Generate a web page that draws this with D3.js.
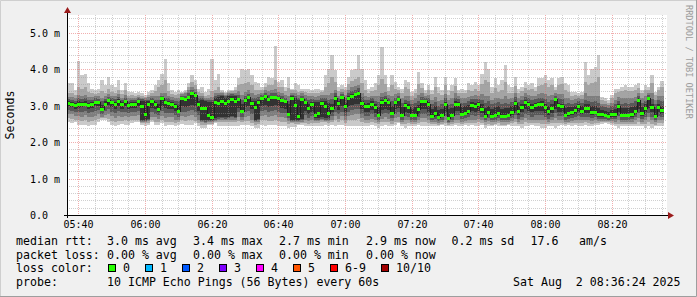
<!DOCTYPE html>
<html>
<head>
<meta charset="utf-8">
<script src="https://cdn.jsdelivr.net/npm/d3@7"></script>
<style>
  body { margin: 0; background: #f0f0f0; }
  svg { display: block; }
  text { font-family: "DejaVu Sans Mono", monospace; white-space: pre; }
</style>
</head>
<body>
<svg id="chart" width="697" height="297"></svg>
<script>
// one column per minute, 10 pings each, ms
const median = [
  3.08,3.05,3.01,3.05,3.05,3.06,3.02,3.04,3.09,3.09,2.91,3.06,3.15,3.09,3.05,3.14,3.04,3.13,3.02,3.06,3.05,3.13,2.98,2.77,3.05,3.12,3.04,2.90,3.21,3.09,3.07,3.05,2.98,2.85,3.22,3.18,3.25,3.35,3.29,3.06,2.95,2.93,2.74,2.69,3.10,
  3.08,3.12,3.07,3.12,3.18,3.14,3.18,2.85,3.17,3.24,3.07,2.97,3.09,3.22,3.27,3.18,3.25,3.25,3.20,3.15,3.12,2.77,3.22,3.02,2.73,3.18,3.11,2.95,3.05,2.75,2.79,3.07,3.00,2.80,2.95,3.22,3.08,3.24,2.99,3.22,3.28,3.33,3.36,3.08,3.00,
  3.00,3.05,2.96,2.75,3.09,3.15,3.09,2.80,3.09,3.18,2.75,3.02,2.97,2.74,2.75,2.90,3.13,3.13,3.05,2.72,2.79,2.68,2.74,3.05,2.66,2.75,3.06,3.06,2.77,2.81,2.85,3.02,2.99,3.04,2.92,2.73,2.83,2.72,2.75,2.81,2.71,2.73,2.74,2.82,3.08,
  2.85,2.96,3.11,3.04,2.97,3.02,3.04,3.05,2.97,2.85,2.95,3.18,3.02,3.00,2.75,2.79,2.82,2.88,2.98,2.85,2.93,2.95,2.82,2.84,2.76,2.76,2.74,2.73,2.76,2.76,3.00,2.75,2.75,2.75,2.76,2.85,3.15,2.80,2.93,3.20,2.96,2.71,2.97,2.89,null
];
const ping1 = [
  2.56,2.52,2.56,2.47,2.47,2.47,2.43,2.47,2.47,2.56,2.61,2.61,2.56,2.47,2.43,2.47,2.49,2.47,2.47,2.52,2.56,2.56,2.47,2.43,2.47,2.56,2.47,2.47,2.52,2.43,2.47,2.47,2.43,2.47,2.49,2.47,2.47,2.47,2.52,2.43,2.38,2.38,2.47,2.47,2.52,
  2.43,2.43,2.43,2.45,2.43,2.43,2.45,2.47,2.47,2.47,2.45,2.40,2.38,2.47,2.45,2.47,2.47,2.47,2.43,2.45,2.43,2.40,2.41,2.42,2.47,2.47,2.45,2.43,2.43,2.45,2.43,2.43,2.47,2.45,2.47,2.45,2.47,2.47,2.43,2.44,2.43,2.45,2.43,2.43,2.43,
  2.45,2.47,2.43,2.40,2.45,2.47,2.43,2.45,2.47,2.52,2.45,2.38,2.43,2.45,2.43,2.47,2.43,2.45,2.43,2.43,2.45,2.43,2.47,2.43,2.43,2.45,2.47,2.43,2.45,2.47,2.43,2.47,2.45,2.43,2.47,2.40,2.43,2.45,2.47,2.43,2.45,2.43,2.47,2.45,2.43,
  2.43,2.40,2.45,2.43,2.47,2.45,2.43,2.38,2.40,2.43,2.45,2.40,2.43,2.47,2.45,2.47,2.45,2.47,2.43,2.45,2.47,2.45,2.43,2.47,2.47,2.50,2.52,2.50,2.47,2.45,2.40,2.43,2.45,2.43,2.45,2.43,2.45,2.43,2.40,2.43,2.40,2.43,2.45,2.43,null
];
const ping2 = [
  2.66,2.64,2.62,2.60,2.58,2.60,2.56,2.58,2.60,2.64,2.66,2.66,2.64,2.58,2.54,2.58,2.58,2.60,2.58,2.60,2.62,2.62,2.52,2.52,2.53,2.62,2.56,2.56,2.60,2.54,2.56,2.56,2.52,2.54,2.60,2.58,2.60,2.60,2.58,2.52,2.48,2.46,2.50,2.50,2.55,
  2.54,2.56,2.54,2.56,2.56,2.56,2.58,2.54,2.58,2.58,2.52,2.48,2.50,2.60,2.60,2.58,2.58,2.60,2.58,2.56,2.54,2.50,2.52,2.50,2.50,2.52,2.52,2.50,2.52,2.52,2.52,2.54,2.54,2.52,2.54,2.60,2.54,2.60,2.52,2.60,2.60,2.62,2.64,2.54,2.52,
  2.52,2.54,2.52,2.50,2.54,2.56,2.54,2.50,2.54,2.56,2.50,2.50,2.52,2.50,2.50,2.52,2.54,2.54,2.52,2.50,2.50,2.48,2.50,2.52,2.48,2.50,2.52,2.52,2.50,2.52,2.52,2.52,2.52,2.54,2.52,2.48,2.50,2.48,2.50,2.52,2.48,2.48,2.50,2.52,2.54,
  2.50,2.50,2.54,2.52,2.52,2.52,2.52,2.50,2.50,2.50,2.52,2.52,2.52,2.52,2.50,2.52,2.52,2.52,2.52,2.52,2.54,2.52,2.50,2.52,2.52,2.54,2.55,2.54,2.52,2.50,2.50,2.50,2.50,2.50,2.50,2.50,2.54,2.50,2.50,2.54,2.50,2.48,2.52,2.52,null
];
const ping3 = [
  2.78,2.76,2.72,2.72,2.70,2.74,2.68,2.70,2.72,2.76,2.70,2.74,2.76,2.72,2.66,2.72,2.70,2.72,2.70,2.72,2.72,2.74,2.55,2.55,2.57,2.70,2.68,2.64,2.72,2.66,2.68,2.68,2.62,2.62,2.72,2.70,2.72,2.74,2.70,2.62,2.54,2.52,2.54,2.54,2.58,
  2.60,2.62,2.60,2.62,2.62,2.62,2.70,2.62,2.70,2.72,2.62,2.54,2.55,2.72,2.74,2.70,2.72,2.74,2.70,2.68,2.66,2.58,2.55,2.55,2.54,2.56,2.62,2.58,2.62,2.58,2.58,2.60,2.58,2.58,2.62,2.72,2.64,2.72,2.62,2.72,2.74,2.76,2.78,2.66,2.62,
  2.62,2.64,2.60,2.56,2.64,2.68,2.64,2.58,2.66,2.68,2.56,2.60,2.60,2.56,2.56,2.60,2.66,2.66,2.62,2.54,2.56,2.52,2.56,2.62,2.52,2.56,2.62,2.62,2.56,2.58,2.60,2.62,2.62,2.64,2.60,2.54,2.58,2.54,2.56,2.58,2.54,2.54,2.56,2.58,2.64,
  2.56,2.60,2.66,2.62,2.60,2.62,2.62,2.62,2.60,2.56,2.60,2.66,2.62,2.60,2.56,2.56,2.58,2.60,2.62,2.60,2.60,2.60,2.58,2.60,2.58,2.58,2.58,2.58,2.58,2.56,2.62,2.56,2.56,2.56,2.56,2.60,2.66,2.56,2.60,2.68,2.60,2.54,2.62,2.60,null
];
const ping4 = [
  2.88,2.86,2.82,2.84,2.84,2.86,2.80,2.82,2.86,2.88,2.78,2.86,2.90,2.84,2.80,2.86,2.82,2.84,2.80,2.82,2.84,2.86,2.58,2.57,2.60,2.82,2.78,2.74,2.86,2.80,2.80,2.80,2.74,2.70,2.84,2.82,2.86,2.88,2.84,2.74,2.58,2.56,2.57,2.57,2.62,
  2.64,2.66,2.64,2.66,2.68,2.66,2.82,2.70,2.84,2.86,2.76,2.58,2.60,2.86,2.88,2.84,2.86,2.88,2.84,2.80,2.80,2.66,2.58,2.58,2.58,2.60,2.74,2.66,2.72,2.62,2.62,2.64,2.62,2.62,2.72,2.84,2.76,2.84,2.72,2.84,2.88,2.90,2.92,2.78,2.72,
  2.72,2.76,2.70,2.62,2.76,2.80,2.76,2.66,2.78,2.82,2.62,2.72,2.70,2.62,2.62,2.68,2.78,2.78,2.72,2.60,2.64,2.58,2.62,2.72,2.56,2.62,2.74,2.74,2.64,2.66,2.68,2.74,2.72,2.74,2.70,2.60,2.66,2.60,2.62,2.66,2.60,2.60,2.62,2.66,2.74,
  2.64,2.70,2.78,2.74,2.70,2.74,2.74,2.74,2.70,2.64,2.70,2.80,2.72,2.72,2.62,2.64,2.66,2.68,2.72,2.68,2.70,2.70,2.66,2.68,2.64,2.64,2.64,2.62,2.64,2.64,2.72,2.62,2.62,2.62,2.64,2.68,2.80,2.64,2.70,2.80,2.70,2.60,2.72,2.68,null
];
const ping5 = [
  2.98,2.96,2.92,2.94,2.96,2.98,2.92,2.94,2.98,3.00,2.86,2.98,3.02,2.96,2.92,3.00,2.92,2.98,2.90,2.94,2.94,2.98,2.62,2.60,2.64,2.94,2.90,2.84,3.00,2.94,2.92,2.92,2.86,2.80,2.98,2.96,3.00,3.02,2.98,2.86,2.62,2.60,2.60,2.60,2.66,
  2.68,2.70,2.68,2.70,2.72,2.70,2.94,2.80,2.96,3.00,2.90,2.62,2.64,3.00,3.02,2.96,3.00,3.02,2.98,2.94,2.92,2.74,2.62,2.62,2.62,2.64,2.86,2.76,2.84,2.66,2.66,2.68,2.66,2.66,2.82,2.98,2.88,2.98,2.84,2.98,3.02,3.04,3.06,2.90,2.84,
  2.84,2.88,2.80,2.70,2.88,2.92,2.88,2.74,2.90,2.94,2.70,2.84,2.80,2.70,2.70,2.78,2.90,2.90,2.84,2.68,2.72,2.64,2.70,2.84,2.62,2.70,2.86,2.86,2.72,2.74,2.78,2.86,2.84,2.86,2.80,2.68,2.76,2.68,2.70,2.74,2.66,2.68,2.70,2.74,2.86,
  2.74,2.82,2.90,2.86,2.82,2.86,2.86,2.86,2.80,2.74,2.80,2.92,2.84,2.82,2.70,2.72,2.74,2.76,2.82,2.76,2.80,2.80,2.74,2.76,2.70,2.70,2.70,2.68,2.70,2.70,2.84,2.70,2.70,2.70,2.70,2.76,2.92,2.72,2.82,2.94,2.82,2.66,2.84,2.78,null
];
const ping6 = [
  3.12,3.10,3.08,3.12,3.11,3.12,3.08,3.10,3.14,3.13,3.02,3.12,3.18,3.14,3.10,3.18,3.10,3.16,3.08,3.10,3.10,3.16,3.14,3.12,3.12,3.14,3.10,3.06,3.22,3.14,3.12,3.10,3.04,3.02,3.24,3.22,3.28,3.38,3.32,3.12,3.16,3.12,3.10,3.10,3.22,
  3.24,3.26,3.22,3.26,3.28,3.26,3.22,3.04,3.20,3.26,3.12,3.12,3.16,3.24,3.30,3.22,3.28,3.28,3.24,3.18,3.16,3.04,3.26,3.20,3.16,3.22,3.14,3.04,3.10,3.10,3.10,3.14,3.12,3.08,3.06,3.26,3.12,3.28,3.08,3.26,3.32,3.36,3.40,3.14,3.06,
  3.08,3.12,3.04,2.96,3.16,3.20,3.14,3.00,3.14,3.22,2.96,3.08,3.04,2.92,2.96,3.02,3.16,3.16,3.10,2.92,2.98,2.88,2.92,3.10,2.90,2.94,3.12,3.10,2.96,2.98,3.02,3.10,3.08,3.10,3.04,2.94,3.00,2.92,2.96,2.98,2.90,2.94,2.94,2.98,3.14,
  2.98,3.06,3.16,3.10,3.06,3.08,3.10,3.12,3.06,2.98,3.04,3.22,3.08,3.06,2.94,2.96,2.96,3.00,3.04,2.98,3.04,3.04,2.98,3.00,2.94,2.88,2.86,2.84,2.88,2.92,3.06,2.94,2.94,2.94,2.96,3.00,3.20,2.96,3.04,3.24,3.06,2.90,3.06,3.00,null
];
const ping7 = [
  3.18,3.16,3.14,3.20,3.18,3.20,3.15,3.16,3.20,3.19,3.12,3.18,3.24,3.20,3.18,3.24,3.16,3.22,3.14,3.16,3.15,3.20,3.18,3.16,3.16,3.20,3.16,3.16,3.28,3.22,3.20,3.16,3.12,3.12,3.28,3.28,3.34,3.44,3.38,3.20,3.20,3.16,3.16,3.16,3.28,
  3.30,3.30,3.26,3.30,3.32,3.30,3.30,3.16,3.28,3.32,3.22,3.20,3.24,3.30,3.36,3.30,3.34,3.36,3.30,3.26,3.22,3.14,3.30,3.26,3.22,3.28,3.22,3.16,3.18,3.16,3.16,3.22,3.20,3.16,3.18,3.34,3.20,3.32,3.20,3.34,3.40,3.44,3.48,3.24,3.16,
  3.16,3.20,3.14,3.10,3.24,3.28,3.22,3.12,3.22,3.28,3.08,3.16,3.14,3.04,3.08,3.14,3.24,3.22,3.20,3.04,3.10,3.00,3.04,3.20,3.02,3.06,3.22,3.18,3.08,3.08,3.12,3.18,3.18,3.18,3.16,3.08,3.12,3.04,3.08,3.10,3.04,3.08,3.06,3.10,3.24,
  3.10,3.16,3.24,3.20,3.16,3.18,3.20,3.22,3.18,3.10,3.16,3.28,3.20,3.18,3.06,3.08,3.06,3.08,3.12,3.08,3.16,3.14,3.10,3.12,3.08,2.98,2.96,2.94,2.98,3.04,3.14,3.06,3.08,3.06,3.08,3.12,3.28,3.08,3.14,3.30,3.18,3.04,3.16,3.12,null
];
const ping8 = [
  3.25,3.24,3.22,3.30,3.28,3.30,3.24,3.24,3.26,3.26,3.22,3.26,3.32,3.28,3.26,3.32,3.22,3.30,3.20,3.22,3.20,3.25,3.22,3.20,3.24,3.26,3.26,3.28,3.36,3.34,3.28,3.24,3.20,3.20,3.32,3.34,3.42,3.52,3.46,3.28,3.26,3.22,3.22,3.24,3.34,
  3.36,3.34,3.30,3.34,3.36,3.36,3.40,3.30,3.38,3.42,3.34,3.30,3.32,3.36,3.42,3.40,3.42,3.46,3.38,3.36,3.30,3.26,3.36,3.34,3.30,3.34,3.30,3.26,3.26,3.24,3.26,3.30,3.30,3.30,3.34,3.44,3.28,3.38,3.30,3.44,3.50,3.54,3.58,3.36,3.28,
  3.24,3.28,3.26,3.26,3.36,3.38,3.30,3.28,3.32,3.34,3.20,3.28,3.26,3.16,3.20,3.30,3.34,3.28,3.30,3.16,3.24,3.14,3.16,3.32,3.16,3.20,3.34,3.26,3.20,3.20,3.24,3.28,3.30,3.28,3.32,3.26,3.28,3.16,3.22,3.20,3.18,3.26,3.18,3.20,3.36,
  3.22,3.28,3.34,3.30,3.28,3.28,3.32,3.34,3.32,3.26,3.30,3.34,3.32,3.32,3.20,3.20,3.16,3.18,3.20,3.18,3.34,3.28,3.26,3.28,3.26,3.06,3.04,3.02,3.08,3.16,3.24,3.20,3.22,3.20,3.20,3.24,3.36,3.20,3.26,3.36,3.34,3.16,3.26,3.26,null
];
const ping9 = [
  3.36,3.34,3.30,3.52,3.45,3.50,3.38,3.34,3.33,3.36,3.40,3.36,3.46,3.38,3.36,3.44,3.32,3.42,3.28,3.30,3.27,3.30,3.27,3.24,3.30,3.34,3.40,3.50,3.56,3.70,3.40,3.32,3.30,3.32,3.35,3.38,3.50,3.66,3.56,3.38,3.36,3.28,3.30,3.40,3.44,
  3.50,3.38,3.34,3.38,3.40,3.44,3.56,3.60,3.62,3.66,3.56,3.44,3.42,3.44,3.50,3.56,3.56,3.70,3.50,3.52,3.40,3.48,3.42,3.44,3.38,3.40,3.38,3.36,3.34,3.36,3.36,3.38,3.50,3.62,3.80,3.64,3.40,3.46,3.42,3.60,3.68,3.72,3.80,3.62,3.44,
  3.34,3.40,3.44,3.56,3.72,3.60,3.40,3.56,3.46,3.42,3.34,3.50,3.46,3.28,3.34,3.60,3.48,3.36,3.44,3.32,3.52,3.36,3.30,3.56,3.30,3.40,3.54,3.36,3.36,3.34,3.42,3.40,3.46,3.40,3.60,3.70,3.64,3.34,3.48,3.38,3.44,3.66,3.36,3.34,3.54,
  3.36,3.40,3.48,3.42,3.46,3.40,3.54,3.56,3.62,3.52,3.56,3.42,3.56,3.60,3.42,3.38,3.28,3.30,3.28,3.30,3.66,3.56,3.62,3.66,3.78,3.16,3.12,3.08,3.20,3.36,3.38,3.40,3.44,3.40,3.40,3.42,3.48,3.34,3.44,3.44,3.62,3.30,3.42,3.50,null
];
const ping10 = [
  3.61,3.61,3.43,4.22,3.84,3.88,3.61,3.47,3.43,3.47,3.70,3.56,3.79,3.56,3.52,3.70,3.43,3.61,3.38,3.38,3.34,3.38,3.34,3.29,3.38,3.43,3.56,3.70,3.88,4.29,3.61,3.43,3.38,3.43,3.38,3.43,3.61,3.84,3.70,3.47,3.52,3.38,3.47,4.29,3.70,
  3.88,3.43,3.38,3.43,3.43,3.52,3.75,4.02,3.97,4.02,3.84,3.65,3.61,3.52,3.61,3.79,3.75,4.65,3.65,3.70,3.52,3.79,3.47,3.61,3.58,3.47,3.47,3.47,3.43,3.47,3.47,3.43,3.84,4.02,4.38,3.97,3.52,3.56,3.52,3.79,3.97,4.02,4.38,4.02,3.70,
  3.47,3.52,3.61,3.84,4.61,3.84,3.52,3.84,3.65,3.52,3.47,3.70,3.65,3.38,3.47,3.93,3.61,3.43,3.56,3.43,3.79,3.52,3.43,3.79,3.43,3.56,3.75,3.43,3.47,3.43,3.61,3.56,3.65,3.56,3.88,4.20,4.02,3.52,3.75,3.56,3.70,4.11,3.56,3.52,3.79,
  3.47,3.52,3.65,3.56,3.61,3.52,3.75,3.75,3.84,3.70,3.75,3.52,3.75,3.79,3.61,3.56,3.38,3.38,3.34,3.38,4.20,3.84,4.02,4.06,4.38,3.25,3.20,3.15,3.29,3.47,3.47,3.52,3.56,3.52,3.52,3.56,3.61,3.43,3.56,3.52,3.84,3.38,3.52,3.67,null
];

const yTicks = [0, 1, 2, 3, 4, 5];
const yTickLabels = ["0.0", "1.0 m", "2.0 m", "3.0 m", "4.0 m", "5.0 m"];
const smokeColors = ["#cacaca", "#a4a4a4", "#7e7e7e", "#585858", "#323232"];
const lossLabels = ["0", "1", "2", "3", "4", "5", "6-9", "10/10"];
const lossColors = ["#26ff00", "#00b8ff", "#0059ff", "#7e00ff", "#ff00ff", "#ff5500", "#ff0000", "#a10000"];
const rttStats = ["3.0 ms avg", "3.4 ms max", "2.7 ms min", "2.9 ms now", "0.2 ms sd", "17.6", "am/s"];
const lossStats = ["0.00 % avg", "0.00 % max", "0.00 % min", "0.00 % now"];
const probeText = "10 ICMP Echo Pings (56 Bytes) every 60s";
const stampText = "Sat Aug  2 08:36:24 2025";

(function() {
    const svg = d3.select('#chart');
    const W = 697, H = 297;
    const left = 67, right = 667, top = 15, bottom = 215;
    const pings = [ping1, ping2, ping3, ping4, ping5, ping6, ping7, ping8, ping9, ping10];

    const t0 = new Date(2025, 7, 2, 5, 36, 36);
    const t1 = d3.timeMinute.offset(t0, median.length);
    const x = d3.scaleTime().domain([t0, t1]).range([left, right]);
    const y = d3.scaleLinear().domain([0, 5.49]).range([bottom, top]);
    const px = t => Math.round(x(t));

    // background + frame
    svg.append('rect').attr('width', W).attr('height', H).attr('fill', '#f0f0f0');
    svg.append('rect').attr('x', left).attr('y', top).attr('width', right - left).attr('height', bottom - top).attr('fill', '#ffffff');
    svg.append('path').attr('d', `M0.5,${H}V0.5H${W}`).attr('fill', 'none').attr('stroke', '#cfcfcf');
    svg.append('path').attr('d', `M0,${H - 0.5}H${W - 0.5}V0`).attr('fill', 'none').attr('stroke', '#9e9e9e');

    // smoke: band b spans ping b .. ping (11-b), darker towards the middle
    const smoke = svg.append('g').attr('shape-rendering', 'crispEdges');
    median.forEach((m, i) => {
        if (m == null) return;
        const xa = px(d3.timeMinute.offset(t0, i));
        const xb = px(d3.timeMinute.offset(t0, i + 1));
        const vals = pings.map(p => p[i]).sort((a, b) => a - b);
        smokeColors.forEach((c, b) => {
            const lo = vals[b], hi = vals[9 - b];
            smoke.append('rect')
                .attr('x', xa).attr('width', xb - xa)
                .attr('y', Math.round(y(hi))).attr('height', Math.max(1, Math.round(y(lo)) - Math.round(y(hi))))
                .attr('fill', c);
        });
    });

    // grid
    const grid = svg.append('g').attr('shape-rendering', 'crispEdges').attr('fill', 'none');
    const minorY = d3.range(0, 5.49, 0.2).map(v => +v.toFixed(1));
    minorY.forEach(v => {
        if (v === 0) return;
        const major = Math.abs(v - Math.round(v)) < 1e-6;
        grid.append('line')
            .attr('x1', left).attr('x2', right)
            .attr('y1', Math.round(y(v)) + 0.5).attr('y2', Math.round(y(v)) + 0.5)
            .attr('stroke', major ? 'rgba(230,110,110,0.55)' : 'rgba(150,150,150,0.45)')
            .attr('stroke-dasharray', '1,1');
    });
    x.ticks(d3.timeMinute.every(5)).forEach(t => {
        const major = t.getMinutes() % 20 === 0;
        grid.append('line')
            .attr('x1', px(t) + 0.5).attr('x2', px(t) + 0.5)
            .attr('y1', top).attr('y2', bottom)
            .attr('stroke', major ? 'rgba(230,110,110,0.55)' : 'rgba(150,150,150,0.45)')
            .attr('stroke-dasharray', '1,1');
    });

    // median: dark joins, then loss-coloured dashes
    const medPts = [];
    median.forEach((m, i) => {
        if (m == null) return;
        const xa = px(d3.timeMinute.offset(t0, i));
        const xb = px(d3.timeMinute.offset(t0, i + 1));
        medPts.push([xa, Math.round(y(m))], [xb, Math.round(y(m))]);
    });
    svg.append('path')
        .attr('d', d3.line()(medPts.map(p => [p[0], p[1] + 0.5])))
        .attr('fill', 'none').attr('stroke', '#202020').attr('stroke-width', 1)
        .attr('shape-rendering', 'crispEdges');
    const med = svg.append('g').attr('shape-rendering', 'crispEdges');
    median.forEach((m, i) => {
        if (m == null) return;
        const xa = px(d3.timeMinute.offset(t0, i));
        const xb = px(d3.timeMinute.offset(t0, i + 1));
        med.append('rect')
            .attr('x', xa).attr('width', xb - xa)
            .attr('y', Math.round(y(m)) - 1).attr('height', 3)
            .attr('fill', lossColors[0]);
    });

    // axes
    svg.append('line').attr('x1', left - 3).attr('x2', right + 3).attr('y1', bottom + 0.5).attr('y2', bottom + 0.5)
        .attr('stroke', '#000').attr('shape-rendering', 'crispEdges');
    svg.append('line').attr('x1', left + 0.5).attr('x2', left + 0.5).attr('y1', bottom + 3).attr('y2', top - 3)
        .attr('stroke', '#000').attr('shape-rendering', 'crispEdges');
    svg.append('path').attr('d', `M${left + 0.5},7 L${left - 3},13 L${left + 4},13 Z`).attr('fill', '#9b1c1c');
    svg.append('path').attr('d', `M${right + 7},${bottom + 0.5} L${right + 1},${bottom - 3} L${right + 1},${bottom + 4} Z`).attr('fill', '#9b1c1c');

    // tick labels
    yTicks.forEach((v, i) => {
        svg.append('text')
            .attr('x', 30).attr('y', Math.round(y(v)) + 4)
            .attr('font-size', '10px').attr('fill', '#000')
            .text(yTickLabels[i]);
    });
    x.ticks(d3.timeMinute.every(20)).forEach(t => {
        svg.append('text')
            .attr('x', px(t) + 0.5).attr('y', 228)
            .attr('text-anchor', 'middle')
            .attr('font-size', '10px').attr('fill', '#000')
            .text(d3.timeFormat('%H:%M')(t));
    });
    svg.append('text')
        .attr('transform', `translate(14,${(top + bottom) / 2}) rotate(-90)`)
        .attr('text-anchor', 'middle')
        .attr('font-size', '11.6px').attr('fill', '#000')
        .text('Seconds');
    svg.append('text')
        .attr('transform', 'translate(685.5,5) rotate(90)')
        .attr('font-size', '8.6px').attr('fill', '#9c9c9c')
        .text('RRDTOOL / TOBI OETIKER');

    // legend
    const lg = svg.append('g').attr('font-size', '11.6px').attr('fill', '#000');
    const rows = [245, 258.5, 272, 286];
    const statX = [107, 193, 279, 366, 451.5, 530.5, 579];
    lg.append('text').attr('x', 16).attr('y', rows[0]).text('median rtt:');
    rttStats.forEach((s, i) => lg.append('text').attr('x', statX[i]).attr('y', rows[0]).text(s));
    lg.append('text').attr('x', 16).attr('y', rows[1]).text('packet loss:');
    lossStats.forEach((s, i) => lg.append('text').attr('x', statX[i]).attr('y', rows[1]).text(s));
    lg.append('text').attr('x', 16).attr('y', rows[2]).text('loss color:');
    const swX = [108, 145, 182, 219, 256, 293, 330, 381];
    lossLabels.forEach((s, i) => {
        lg.append('rect')
            .attr('x', swX[i] + 0.5).attr('y', 264.5).attr('width', 7).attr('height', 7)
            .attr('fill', lossColors[i]).attr('stroke', '#000').attr('stroke-width', 1);
        lg.append('text').attr('x', swX[i] + 15).attr('y', rows[2]).text(s);
    });
    lg.append('text').attr('x', 16).attr('y', rows[3]).text('probe:');
    lg.append('text').attr('x', 107).attr('y', rows[3]).text(probeText);
    lg.append('text').attr('x', 513).attr('y', rows[3]).text(stampText);
})();
</script>
</body>
</html>
